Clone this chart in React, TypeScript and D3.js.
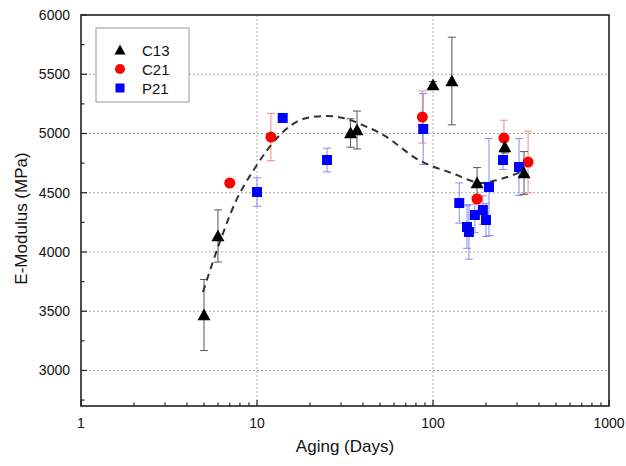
import React from "react";
import * as d3 from "d3";

const c13Days = [5, 6, 34, 37, 100, 128, 178, 256, 329];
const c13Mod = [3468, 4135, 5004, 5029, 5409, 5443, 4582, 4886, 4667];
const c13Err = [300, 220, 120, 160, 30, 370, 130, 50, 180];

const c21Days = [7, 12, 87, 178, 253, 347];
const c21Mod = [4582, 4970, 5139, 4447, 4962, 4759];
const c21Err = [30, 200, 220, 40, 150, 260];

const p21Days = [10, 14, 25, 88, 141, 156, 160, 173, 192, 200, 208, 250, 308];
const p21Mod = [4506, 5131, 4776, 5038, 4413, 4211, 4169, 4312, 4354, 4270, 4548, 4776, 4717];
const p21Err = [120, 20, 100, 300, 170, 180, 230, 150, 120, 140, 410, 80, 240];

const fitDays = [4.93, 6.1, 7.5, 9.74, 13.0, 19.2, 25, 30.8, 42.2, 50, 84.4, 130, 190, 231, 285, 333];
const fitMod = [3662, 4070, 4413, 4709, 4962, 5131, 5148, 5131, 5055, 5004, 4770, 4662, 4582, 4607, 4650, 4692];

const xTicks = [1, 10, 100, 1000];
const yTicks = [3000, 3500, 4000, 4500, 5000, 5500, 6000];
const legendNames = ["C13", "C21", "P21"];

const W = 626, H = 466;
const M = { left: 81, right: 609, top: 15, bottom: 406 };
const FONT = "Arial, 'Liberation Sans', Helvetica, sans-serif";

export default function App() {
  const x = d3.scaleLog().domain([1, 1000]).range([M.left, M.right]);
  const y = d3.scaleLinear().domain([2700, 6000]).range([M.bottom, M.top]);

  const minorX: number[] = [];
  for (const dec of [1, 10, 100]) for (let k = 2; k <= 9; k++) minorX.push(dec * k);
  const minorY = d3.range(2750, 6000, 500);

  const line = d3
    .line<number>()
    .x((_, i) => x(fitDays[i]))
    .y((d) => y(d))
    .curve(d3.curveMonotoneX);

  const errBars = (days: number[], mod: number[], err: number[], color: string) =>
    days.map((d, i) => {
      const cx = x(d);
      const y1 = y(mod[i] + err[i]);
      const y2 = y(mod[i] - err[i]);
      return (
        <g key={"e" + color + i} stroke={color} strokeWidth={1}>
          <line x1={cx} x2={cx} y1={y1} y2={y2} />
          <line x1={cx - 4} x2={cx + 4} y1={y1} y2={y1} />
          <line x1={cx - 4} x2={cx + 4} y1={y2} y2={y2} />
        </g>
      );
    });

  const tri = (cx: number, cy: number, s = 6.5) =>
    `M${cx},${cy - s} L${cx + s},${cy + s * 0.8} L${cx - s},${cy + s * 0.8} Z`;

  return (
    <svg width={W} height={H} style={{ position: "absolute", left: 0, top: 0, background: "#fff" }}>
      <rect width={W} height={H} fill="#fff" />
      {/* grid */}
      <g stroke="#a8a8a8" strokeWidth={1} strokeDasharray="2,2">
        {xTicks.slice(1, -1).map((t) => (
          <line key={"gx" + t} x1={x(t)} x2={x(t)} y1={M.top} y2={M.bottom} />
        ))}
        {yTicks.slice(0, -1).map((t) => (
          <line key={"gy" + t} x1={M.left} x2={M.right} y1={y(t)} y2={y(t)} />
        ))}
      </g>
      {/* error bars */}
      {errBars(c21Days, c21Mod, c21Err, "#f08a8a")}
      {errBars(p21Days, p21Mod, p21Err, "#8a8af0")}
      {errBars(c13Days, c13Mod, c13Err, "#555")}
      {/* fit curve */}
      <path d={line(fitMod) || ""} fill="none" stroke="#333" strokeWidth={2} strokeDasharray="7,5" />
      {/* points */}
      {c21Days.map((d, i) => (
        <circle key={"c" + i} cx={x(d)} cy={y(c21Mod[i])} r={5.5} fill="#ff0000" />
      ))}
      {p21Days.map((d, i) => (
        <rect key={"p" + i} x={x(d) - 5} y={y(p21Mod[i]) - 5} width={10} height={10} fill="#0000ff" />
      ))}
      {c13Days.map((d, i) => (
        <path key={"t" + i} d={tri(x(d), y(c13Mod[i]))} fill="#000" />
      ))}
      {/* frame */}
      <rect x={M.left} y={M.top} width={M.right - M.left} height={M.bottom - M.top} fill="none" stroke="#222" strokeWidth={1.6} />
      {/* ticks */}
      <g stroke="#222" strokeWidth={1.2}>
        {xTicks.map((t) => (
          <line key={"tx" + t} x1={x(t)} x2={x(t)} y1={M.bottom} y2={M.bottom - 6} />
        ))}
        {minorX.map((t) => (
          <line key={"mx" + t} x1={x(t)} x2={x(t)} y1={M.bottom} y2={M.bottom - 3.5} />
        ))}
        {yTicks.map((t) => (
          <line key={"ty" + t} x1={M.left} x2={M.left + 6} y1={y(t)} y2={y(t)} />
        ))}
        {minorY.map((t) => (
          <line key={"my" + t} x1={M.left} x2={M.left + 3.5} y1={y(t)} y2={y(t)} />
        ))}
      </g>
      {/* tick labels */}
      <g fontFamily={FONT} fontSize={14} fill="#111">
        {xTicks.map((t) => (
          <text key={"lx" + t} x={x(t)} y={M.bottom + 22} textAnchor="middle">
            {t}
          </text>
        ))}
        {yTicks.map((t) => (
          <text key={"ly" + t} x={M.left - 11} y={y(t) + 5} textAnchor="end">
            {t}
          </text>
        ))}
      </g>
      <text x={(M.left + M.right) / 2 + 0} y={452} textAnchor="middle" fontFamily={FONT} fontSize={17} fill="#111">
        Aging (Days)
      </text>
      <text
        transform={`translate(27,${(M.top + M.bottom) / 2 + 8}) rotate(-90)`}
        textAnchor="middle"
        fontFamily={FONT}
        fontSize={17}
        fill="#111"
      >
        E-Modulus (MPa)
      </text>
      {/* legend */}
      <g>
        <rect x={96} y={28} width={93} height={74} fill="#fff" stroke="#999" strokeWidth={1} />
        {legendNames.map((n, i) => {
          const ly = 50 + i * 19;
          return (
            <g key={n}>
              {i === 0 && <path d={tri(120, ly, 5.5)} fill="#000" />}
              {i === 1 && <circle cx={120} cy={ly} r={5} fill="#ff0000" />}
              {i === 2 && <rect x={115.5} y={ly - 4.5} width={9} height={9} fill="#0000ff" />}
              <text x={142} y={ly + 5.5} fontFamily={FONT} fontSize={15} fill="#111">
                {n}
              </text>
            </g>
          );
        })}
      </g>
    </svg>
  );
}
